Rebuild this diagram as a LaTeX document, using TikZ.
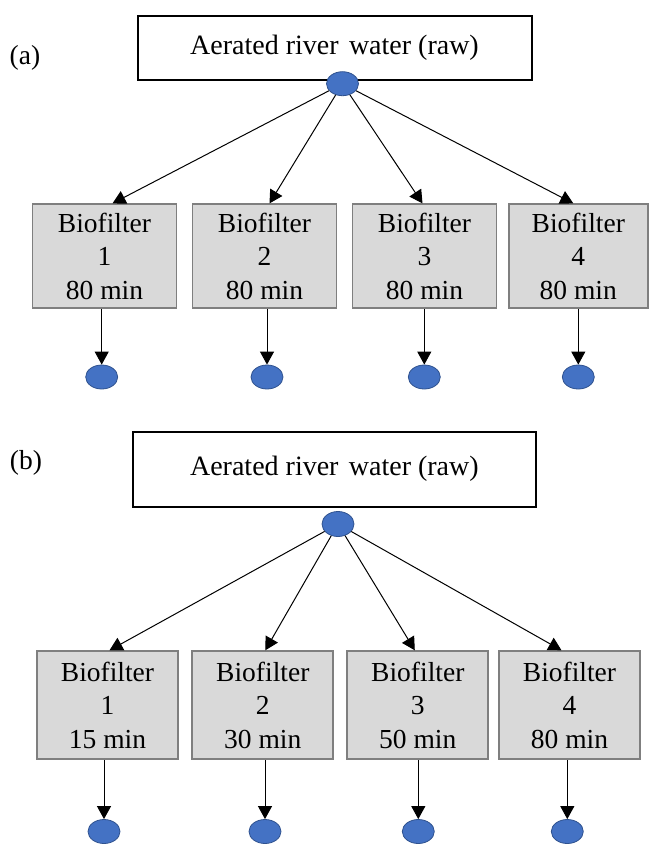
\documentclass[tikz,border=0pt]{standalone}
\usepackage{fontspec}
\setmainfont{Liberation Serif}
\usetikzlibrary{arrows.meta,shapes.geometric}
\definecolor{boxgray}{HTML}{D9D9D9}
\definecolor{edgegray}{HTML}{7F7F7F}
\definecolor{dotblue}{HTML}{4472C4}
\definecolor{dotedge}{HTML}{2F528F}
\begin{document}
\begin{tikzpicture}[x=1pt,y=-1pt,
  topbox/.style={draw=black, line width=2pt, fill=white, inner sep=0pt,
    font=\fontsize{28}{34}\selectfont},
  bf/.style={draw=edgegray, line width=1.8pt, fill=boxgray, inner sep=0pt,
    align=center, minimum width=142pt, font=\fontsize{27.5}{33.4}\selectfont},
  dot/.style={ellipse, draw=dotedge, line width=0.8pt, fill=dotblue,
    minimum width=32pt, minimum height=24pt, inner sep=0pt},
  conn/.style={line width=1pt, -{Triangle[length=13pt,width=14pt]}},
  lbl/.style={inner sep=0pt, font=\fontsize{27.5}{33}\selectfont}
]
\useasboundingbox (0,0) rectangle (649,844);

% ---------- panel (a) ----------
\node[lbl] (la) at (25,58) {(a)};
\node[topbox, minimum width=394pt, minimum height=64pt] (ta) at (334.5,48) {Aerated river\hspace{0.12em} water (raw)};
\node[dot] (sa) at (342.5,83.7) {};

\node[bf, minimum width=144pt, minimum height=104pt] (a1) at (104.5,256.3) {Biofilter\\1\\80 min};
\node[bf, minimum width=144pt, minimum height=104pt] (a2) at (264.5,256.3) {Biofilter\\2\\80 min};
\node[bf, minimum width=144pt, minimum height=104pt] (a3) at (424.5,256.3) {Biofilter\\3\\80 min};
\node[bf, minimum width=139pt, minimum height=104pt] (a4) at (578.3,256.3) {Biofilter\\4\\80 min};

\node[dot] (ea1) at (101.7,377) {};
\node[dot] (ea2) at (267,377) {};
\node[dot] (ea3) at (424.3,377) {};
\node[dot] (ea4) at (578.3,377) {};

\draw[conn] (sa) -- ([xshift=8pt]a1.north);
\draw[conn] (sa) -- ([xshift=5pt]a2.north);
\draw[conn] (sa) -- ([xshift=-2pt]a3.north);
\draw[conn] (sa) -- ([xshift=-5pt]a4.north);

\draw[conn] (ea1 |- a1.south) -- (ea1.north);
\draw[conn] (ea2 |- a2.south) -- (ea2.north);
\draw[conn] (ea3 |- a3.south) -- (ea3.north);
\draw[conn] (ea4 |- a4.south) -- (ea4.north);

% ---------- panel (b) ----------
\node[lbl] (lb) at (26,462.5) {(b)};
\node[topbox, minimum width=403pt, minimum height=75pt] (tb) at (334.4,469) {Aerated river\hspace{0.12em} water (raw)};
\node[dot, minimum height=25pt] (sb) at (338,524) {};

\node[bf, minimum width=140.5pt, minimum height=108pt] (b1) at (107.5,705.2) {Biofilter\\1\\15 min};
\node[bf, minimum width=141pt, minimum height=108pt] (b2) at (262.8,705.2) {Biofilter\\2\\30 min};
\node[bf, minimum width=141pt, minimum height=108pt] (b3) at (417.8,705.2) {Biofilter\\3\\50 min};
\node[bf, minimum width=141pt, minimum height=108pt] (b4) at (569.5,705.2) {Biofilter\\4\\80 min};

\node[dot] (eb1) at (104,831.5) {};
\node[dot] (eb2) at (265,831.5) {};
\node[dot] (eb3) at (418.3,831.5) {};
\node[dot] (eb4) at (567.3,831.5) {};

\draw[conn] (sb) -- ([xshift=2pt]b1.north);
\draw[conn] (sb) -- ([xshift=2.5pt]b2.north);
\draw[conn] (sb) -- ([xshift=-3pt]b3.north);
\draw[conn] (sb) -- ([xshift=-8pt]b4.north);

\draw[conn] (eb1 |- b1.south) -- (eb1.north);
\draw[conn] (eb2 |- b2.south) -- (eb2.north);
\draw[conn] (eb3 |- b3.south) -- (eb3.north);
\draw[conn] (eb4 |- b4.south) -- (eb4.north);
\end{tikzpicture}
\end{document}
